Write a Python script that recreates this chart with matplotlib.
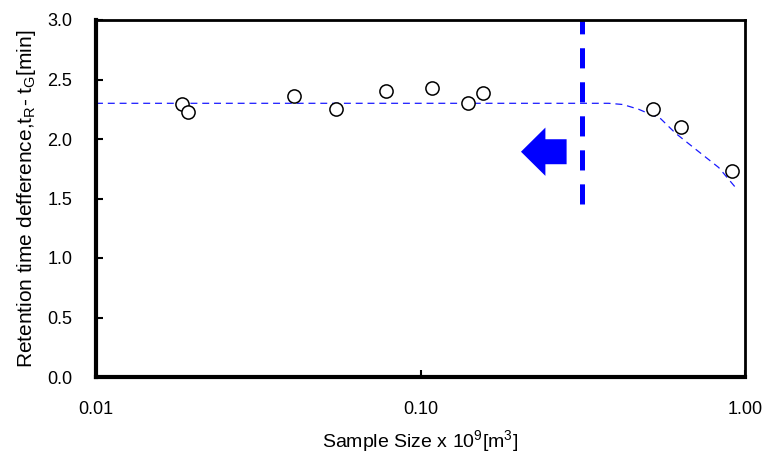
import matplotlib
matplotlib.use("Agg")
import matplotlib.pyplot as plt
from matplotlib.patches import Polygon

plt.rcParams['font.family'] = ['Liberation Sans', 'DejaVu Sans']
plt.rcParams['mathtext.fontset'] = 'custom'
plt.rcParams['mathtext.rm'] = 'Liberation Sans'
plt.rcParams['lines.scale_dashes'] = False

# measured data
sample_size = [0.0184, 0.0192, 0.0407, 0.0548, 0.0784, 0.1086, 0.140, 0.1555, 0.521, 0.635, 0.91]
rt_diff = [2.297, 2.224, 2.361, 2.250, 2.403, 2.429, 2.305, 2.389, 2.250, 2.098, 1.731]

# fitted trend (dashed)
fit_x = [0.01, 0.38, 0.42, 0.47, 0.55, 0.61, 0.70, 0.83, 0.93]
fit_y = [2.30, 2.30, 2.29, 2.25, 2.17, 2.05, 1.92, 1.76, 1.60]

# limit line and arrow
limit_x = 0.315
limit_ymin = 1.45
arrow_tip_x, arrow_neck_x, arrow_tail_x = 0.204, 0.2426, 0.282
arrow_y, arrow_head_half, arrow_tail_half = 1.893, 0.203, 0.105

xticks = [0.01, 0.1, 1.0]
xticklabels = ['0.01', '0.10', '1.00']
yticks = [0.0, 0.5, 1.0, 1.5, 2.0, 2.5, 3.0]

fig = plt.figure(figsize=(7.63, 4.54), dpi=100)
ax = fig.add_axes([96/763, 77/454, (745-96)/763, (377-20)/454])

ax.set_xscale('log')
ax.set_xlim(0.01, 1.0)
ax.set_ylim(0.0, 3.0)

ax.plot(fit_x, fit_y, color='#1a1aff', lw=0.9, linestyle=(0, (5, 3.5)), zorder=2)
ax.axvline(limit_x, ymin=limit_ymin/3.0, ymax=1.0, color='#0000ff', lw=3.6,
           linestyle=(0, (14.5, 10)), zorder=2)

arrow = Polygon([
    (arrow_tip_x, arrow_y),
    (arrow_neck_x, arrow_y + arrow_head_half),
    (arrow_neck_x, arrow_y + arrow_tail_half),
    (arrow_tail_x, arrow_y + arrow_tail_half),
    (arrow_tail_x, arrow_y - arrow_tail_half),
    (arrow_neck_x, arrow_y - arrow_tail_half),
    (arrow_neck_x, arrow_y - arrow_head_half),
], closed=True, facecolor='#0000ff', edgecolor='none', zorder=3)
ax.add_patch(arrow)

ax.plot(sample_size, rt_diff, linestyle='none', marker='o', markersize=9.5,
        markerfacecolor='white', markeredgecolor='black', markeredgewidth=1.1, zorder=4)

ax.set_xticks(xticks)
ax.set_xticklabels(xticklabels)
ax.xaxis.set_minor_locator(matplotlib.ticker.NullLocator())
ax.set_yticks(yticks)
ax.set_yticklabels([f'{v:.1f}' for v in yticks])

ax.tick_params(axis='both', direction='in', length=5, width=1.5, labelsize=13)
ax.tick_params(axis='x', pad=17)
ax.tick_params(axis='y', pad=17)

for side, lw in [('left', 3), ('bottom', 3), ('top', 2), ('right', 2)]:
    ax.spines[side].set_linewidth(lw)
    ax.spines[side].set_color('black')

ax.set_xlabel('Sample Size x 10$^\\mathregular{9}$[m$^\\mathregular{3}$]', fontsize=14, labelpad=8)
ax.set_ylabel('Retention time defference,t$_\\mathregular{R}$- t$_\\mathregular{G}$[min]', fontsize=15, labelpad=7)

fig.savefig('out.png', dpi=100)
